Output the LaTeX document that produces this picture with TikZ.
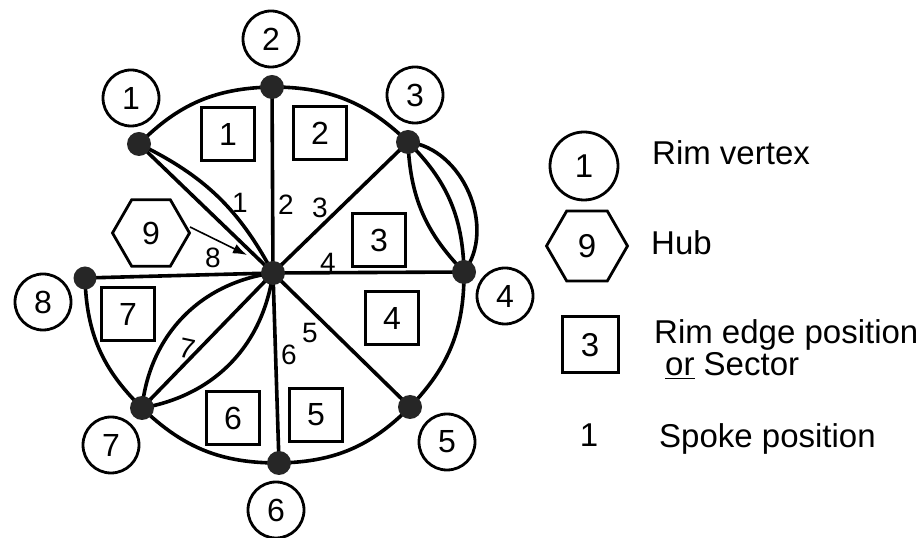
\documentclass[tikz,border=0pt]{standalone}
\usepackage{fontspec}
\setmainfont{Liberation Sans}
\usetikzlibrary{arrows.meta,shapes.geometric}
\begin{document}
\begin{tikzpicture}[x=1pt,y=1pt,
  edgeline/.style={line width=3.6pt},
  dot/.style={circle,fill=black!85,inner sep=0pt,minimum size=24pt},
  rimlabel/.style={circle,draw,line width=2.8pt,inner sep=0pt,minimum size=56pt,font=\fontsize{32}{32}\selectfont},
  sector/.style={rectangle,draw,line width=3pt,inner sep=0pt,minimum size=53pt,font=\fontsize{32}{32}\selectfont},
  hubhex/.style={regular polygon,regular polygon sides=6,draw,line width=2.8pt,inner sep=0pt,font=\fontsize{32}{32}\selectfont},
  spokelab/.style={inner sep=0pt,font=\fontsize{28}{28}\selectfont},
  legtext/.style={anchor=base west,inner sep=0pt,font=\fontsize{33}{33}\selectfont}]
\useasboundingbox (0,0) rectangle (921,538);
% vertices
\coordinate (H) at (273,265);
\coordinate (v1) at (139,394);
\coordinate (v2) at (272,451);
\coordinate (v3) at (408,396);
\coordinate (v4) at (464,266);
\coordinate (v5) at (410,131);
\coordinate (v6) at (279,75);
\coordinate (v7) at (142,130);
\coordinate (v8) at (85,260);
% rim edges
\draw[edgeline] (v1) to[bend left=22] (v2);
\draw[edgeline] (v2) to[bend left=22] (v3);
\draw[edgeline] (v3) to[bend left=22] (v4);
\draw[edgeline] (v3) to[bend left=60] (v4);
\draw[edgeline] (v3) to[bend right=21] (v4);
\draw[edgeline] (v4) to[bend left=22] (v5);
\draw[edgeline] (v5) to[bend left=22] (v6);
\draw[edgeline] (v6) to[bend left=22] (v7);
\draw[edgeline] (v7) to[bend left=22] (v8);
% spokes
\foreach \v in {v1,v2,v3,v4,v5,v6,v7,v8} \draw[edgeline] (H) -- (\v);
\draw[edgeline] (v1) to[bend left=18] (H);
\draw[edgeline] (v7) to[bend left=38] (H);
\draw[edgeline] (v7) to[bend right=36] (H);
% dots
\foreach \v in {H,v1,v2,v3,v4,v5,v6,v7} \node[dot] (d\v) at (\v) {};
\node[dot,minimum size=23pt] (dv8) at (v8) {};
% rim vertex labels
\node[rimlabel] (c1) at (131,440) {1};
\node[rimlabel] (c2) at (271,499) {2};
\node[rimlabel] (c3) at (415,443) {3};
\node[rimlabel] (c4) at (505,242) {4};
\node[rimlabel] (c5) at (447,96) {5};
\node[rimlabel] (c6) at (276,28) {6};
\node[rimlabel] (c7) at (111,93) {7};
\node[rimlabel] (c8) at (43,236) {8};
% sectors
\node[sector] (s1) at (228,404) {1};
\node[sector] (s2) at (320,405) {2};
\node[sector] (s3) at (379,298) {3};
\node[sector] (s4) at (392,220) {4};
\node[sector] (s5) at (316,123) {5};
\node[sector] (s6) at (233,120) {6};
\node[sector] (s7) at (128,224) {7};
% hub label
\node[hubhex,minimum size=77pt] (hub9) at (151,305) {9};
\coordinate (arrS) at (190,311);
\coordinate (arrE) at (247,283);
\draw[line width=1.6pt,-{Latex[length=14pt,width=10pt]}] (arrS) -- (arrE);
% spoke labels
\node[spokelab] (p1) at (240,335) {1};
\node[spokelab] (p2) at (286,333) {2};
\node[spokelab] (p3) at (320,330) {3};
\node[spokelab] (p4) at (328,275) {4};
\node[spokelab] (p5) at (310,205) {5};
\node[spokelab] (p6) at (289,183) {6};
\node[spokelab,rotate=-12] (p7) at (187,189) {7};
\node[spokelab] (p8) at (213,280) {8};
% legend
\node[rimlabel,minimum size=68pt,font=\fontsize{33}{33}\selectfont] (lc) at (584,372) {1};
\node[hubhex,minimum size=81pt,font=\fontsize{33}{33}\selectfont] (lh) at (587,292) {9};
\node[sector,minimum size=56pt,font=\fontsize{33}{33}\selectfont] (ls) at (590,193) {3};
\node[legtext,anchor=base] (lp) at (589,91) {1};
\node[legtext] (t1) at (652,373) {Rim vertex};
\node[legtext] (t2) at (651,283) {Hub};
\node[legtext] (t3) at (654,194) {Rim edge position};
\node[legtext] (t4) at (665,162) {\underline{or} Sector};
\node[legtext] (t5) at (659,90) {Spoke position};
\end{tikzpicture}
\end{document}
